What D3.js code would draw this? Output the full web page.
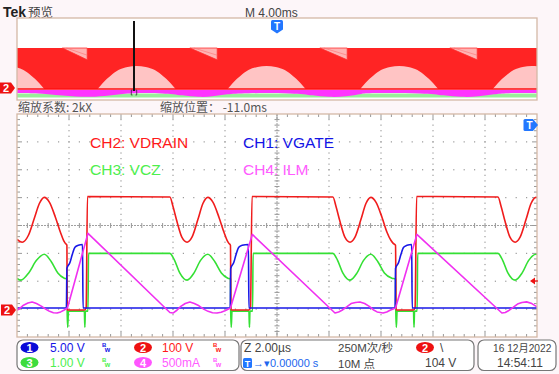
<!DOCTYPE html>
<html><head><meta charset="utf-8">
<script src="https://cdn.jsdelivr.net/npm/d3@7"></script>
<style>body{margin:0;background:#fdf6f9}svg{display:block}</style>
</head><body><svg id="c" width="559" height="374"></svg>
<script>
// ================= DATA =================
const timeDomainUs = [0, 20];           // 10 div x 2.00 us
const overviewDomainMs = [-20, 20];     // 10 div x 4.00 ms
const zoomPositionMs = -11.0;

// CH2 VDRAIN (us, V)
const vdrain = [[0,253],[0.2,243],[0.44,268],[0.67,330],[0.86,382],[1.05,404],[1.25,386],[1.48,332],[1.67,279],[1.79,250],[1.86,239],[1.92,232],[1.93,0],[2.60,0],[2.66,8],[2.71,407],
 [5.88,405],[6.00,371],[6.15,318],[6.34,261],[6.54,243],[6.73,261],[6.96,325],[7.15,382],[7.34,404],[7.54,386],[7.77,332],[7.96,279],[8.08,250],[8.15,239],[8.21,232],[8.23,0],[8.92,0],[8.98,8],[9.04,407],
 [12.15,405],[12.27,371],[12.42,318],[12.61,261],[12.81,243],[13.0,261],[13.23,325],[13.42,382],[13.61,404],[13.81,386],[14.04,332],[14.23,279],[14.38,250],[14.47,239],[14.56,232],[14.58,0],[15.25,0],[15.31,8],[15.37,407],
 [18.5,405],[18.62,371],[18.77,318],[18.96,261],[19.16,243],[19.35,261],[19.58,325],[19.77,382],[19.96,404],[20,403]];

// CH3 VCZ (us, V)
const vcz = [[0,1.20],[0.15,1.14],[0.45,1.40],[0.75,1.85],[1.05,2.07],[1.32,1.80],[1.57,1.40],[1.82,1.21],[1.92,1.18],[1.93,0.0],[1.95,-0.55],[1.98,0.03],[2.59,0.03],[2.61,-0.55],[2.63,0.03],[2.73,0.03],[2.75,2.10],
 [5.88,2.10],[6.06,1.85],[6.26,1.40],[6.54,1.14],[6.81,1.40],[7.06,1.85],[7.34,2.07],[7.61,1.80],[7.86,1.40],[8.11,1.21],[8.21,1.18],[8.22,0.0],[8.24,-0.55],[8.27,0.03],[8.92,0.03],[8.94,-0.55],[8.96,0.03],[9.06,0.03],[9.08,2.10],
 [12.15,2.10],[12.33,1.85],[12.53,1.40],[12.81,1.14],[13.08,1.40],[13.33,1.85],[13.61,2.07],[13.88,1.80],[14.13,1.40],[14.42,1.21],[14.56,1.18],[14.57,0.0],[14.59,-0.55],[14.62,0.03],[15.25,0.03],[15.27,-0.55],[15.29,0.03],[15.39,0.03],[15.41,2.10],
 [18.5,2.10],[18.68,1.85],[18.88,1.40],[19.16,1.14],[19.43,1.40],[19.68,1.85],[19.96,2.07],[20,2.06]];

// CH1 VGATE (us, V)
const vgate = [[0,0],[1.90,0],[1.92,7.1],[2.04,8.2],[2.12,9.5],[2.23,10.9],[2.36,11.25],[2.52,11.4],[2.54,0],
 [8.20,0],[8.22,7.1],[8.34,8.2],[8.42,9.5],[8.53,10.9],[8.66,11.25],[8.90,11.4],[8.92,0],
 [14.54,0],[14.56,7.1],[14.68,8.2],[14.76,9.5],[14.87,10.9],[15.0,11.25],[15.18,11.4],[15.20,0],[20,0]];

// CH4 ILM (us, A)
const ilm = [[0,-0.04],[0.12,0.0],[0.25,0.05],[0.42,0.09],[0.58,0.107],[0.75,0.08],[0.95,0.03],[1.1,-0.02],[1.25,-0.06],[1.4,-0.085],[1.54,-0.09],[1.68,-0.07],[1.80,-0.04],[1.94,0],[2.73,1.34],
 [5.88,-0.08],[6.0,-0.09],[6.15,-0.04],[6.3,0.03],[6.47,0.08],[6.65,0.107],[6.82,0.08],[7.0,0.04],[7.18,-0.02],[7.35,-0.06],[7.52,-0.085],[7.69,-0.09],[7.85,-0.075],[8.0,-0.05],[8.21,0],[9.05,1.32],
 [12.23,-0.09],[12.37,-0.07],[12.5,-0.04],[12.68,0.02],[12.85,0.08],[13.02,0.1],[13.19,0.107],[13.37,0.08],[13.55,0.03],[13.7,-0.03],[13.85,-0.07],[14.08,-0.09],[14.22,-0.07],[14.35,-0.04],[14.56,0],[15.38,1.32],
 [18.65,-0.09],[18.78,-0.08],[18.9,-0.05],[19.08,0.01],[19.25,0.07],[19.42,0.1],[19.6,0.11],[19.8,0.08],[20,0.02]];

// Overview (ms) envelopes
const ovVdrainTop = 400;
const ovNotchStart = [-16.5, -6.7, 3.3, 13.3];
const ovNotchEnd   = [-14.6, -4.6, 5.4, 15.4];
const ovNotchLevel = 285;
const ovHumpCenters = [-20.9, -10.8, -0.8, 9.4, 19.6];
const ovHumpOffsets = [-3.0, -2.6, -2.0, -1.4, -0.7, 0, 0.7, 1.4, 2.0, 2.6, 3.0];
const ovHumpLevels  = [0, 60, 130, 185, 215, 224, 215, 185, 130, 60, 0];
const ovIlmTop = 0.06;
const ovIlmBottom = [[-20,-0.1],[-18.6,-0.1],[-17,-0.2],[-15.5,-0.28],[-14,-0.3],[-12.5,-0.2],[-11.3,-0.1],[-8.6,-0.1],[-7.3,-0.22],[-6,-0.3],[-5,-0.28],[-3.8,-0.15],[-2.7,-0.1],
 [1.5,-0.1],[2.7,-0.22],[4,-0.3],[5.3,-0.28],[6.6,-0.12],[7.2,-0.1],[11.5,-0.1],[12.8,-0.22],[14.2,-0.3],[15.5,-0.28],[16.8,-0.15],[17.5,-0.1],[20,-0.1]];
const ovVczBand = [0.25, 0.63];

// Labels
const chNames = ["CH1: VGATE", "CH2: VDRAIN", "CH3: VCZ", "CH4: ILM"];
const chScaleText = ["5.00 V", "100 V", "1.00 V", "500mA"];
const triggerLevelV = 104;

// ================= STYLE / LAYOUT =================
const COL = {1:"#1818e8", 2:"#f01c1c", 3:"#34e034", 4:"#f030f0"};
const TXT = {1:"#1414e6", 2:"#ff1a1a", 3:"#4def4d", 4:"#ff5cff"};
const perDiv = {1:5, 2:100, 3:1, 4:0.5};
const offDiv = {1:-2.96, 2:-3.03, 3:-3.10, 4:-2.96};
const ovOff = {2:-2.93, 3:-4.0, 4:-3.12};
const FONT = '"Liberation Sans","Noto Sans CJK SC",sans-serif';
const CJK = '"Noto Sans CJK SC","Liberation Sans",sans-serif';

const X0=17, X1=537, Y0=114, Y1=337;
const OY0=18, OY1=100;
const svg = d3.select("#c");

const x = d3.scaleLinear().domain(timeDomainUs).range([X0, X1]);
const yDiv = d3.scaleLinear().domain([-4, 4]).range([Y1, Y0]);
const ox = d3.scaleLinear().domain(overviewDomainMs).range([X0, X1]);
const oyDiv = d3.scaleLinear().domain([-4, 4]).range([OY1, OY0]);
const yv = (ch, v) => yDiv(offDiv[ch] + v / perDiv[ch]);
const oyv = (ch, v) => oyDiv(ovOff[ch] + v / perDiv[ch]);

// ================= TOP TEXT =================
svg.append("text").attr("x",3).attr("y",17).attr("font-family",FONT).attr("font-weight","bold").attr("font-size",14).attr("fill","#222").text("Tek");
svg.append("text").attr("x",28).attr("y",17).attr("font-family",CJK).attr("font-size",12.5).attr("fill","#444").text("预览");
svg.append("text").attr("x",245).attr("y",17).attr("font-family",FONT).attr("font-size",12).attr("fill","#444").text("M 4.00ms");

// ================= OVERVIEW =================
svg.append("defs").html(`<clipPath id="ovclip"><rect x="${X0}" y="${OY0}" width="${X1-X0}" height="${OY1-OY0}"/></clipPath>
<clipPath id="mclip"><rect x="${X0}" y="${Y0}" width="${X1-X0}" height="${Y1-Y0}"/></clipPath>`);
svg.append("rect").attr("x",X0).attr("y",OY0).attr("width",X1-X0).attr("height",OY1-OY0).attr("fill","#fff");
const ov = svg.append("g").attr("clip-path","url(#ovclip)");
ov.append("path").attr("fill","#9aee9a").attr("d", d3.area().x(d=>ox(d)).y0(oyv(3,ovVczBand[0])).y1(oyv(3,ovVczBand[1]))(overviewDomainMs));
ov.append("path").attr("fill","#ff33ff").attr("d", d3.area().x(d=>ox(d[0])).y0(d=>oyv(4,d[1])).y1(oyv(4,ovIlmTop)).curve(d3.curveBasis)(ovIlmBottom));
ov.append("path").attr("fill","#ff2424").attr("d", d3.area().x(d=>ox(d)).y0(oyv(2,0)).y1(oyv(2,ovVdrainTop))(overviewDomainMs));
ovHumpCenters.forEach(c=>{
  const pts = ovHumpOffsets.map((o,i)=>[c+o, ovHumpLevels[i]]);
  ov.append("path").attr("fill","#ffc4c4").attr("d", d3.area().x(d=>ox(d[0])).y0(oyv(2,0)).y1(d=>oyv(2,d[1])).curve(d3.curveMonotoneX)(pts));
});
ovNotchStart.forEach((s,i)=>{
  const e = ovNotchEnd[i];
  ov.append("path").attr("fill","#ffb4b4").attr("stroke","#ff3030").attr("stroke-width",0.8)
    .attr("d", d3.line()([[ox(s),oyv(2,ovVdrainTop)],[ox(e),oyv(2,ovNotchLevel)],[ox(e),oyv(2,ovVdrainTop)]]) + "Z");
  ov.append("path").attr("fill","none").attr("stroke","#ff7070").attr("stroke-width",0.6)
    .attr("d", d3.line()([[ox(s)+4,oyv(2,ovVdrainTop)],[ox(e),oyv(2,ovNotchLevel+45)]]));
});
ov.append("line").attr("x1",X0).attr("x2",X1).attr("y1",oyv(2,0)).attr("y2",oyv(2,0)).attr("stroke","#ff1010").attr("stroke-width",1.5);
svg.append("rect").attr("x",X0).attr("y",OY0).attr("width",X1-X0).attr("height",OY1-OY0).attr("fill","none").attr("stroke","#d4b8a6").attr("stroke-width",1.3);
const zx = ox(zoomPositionMs);
svg.append("line").attr("x1",zx).attr("x2",zx).attr("y1",OY0+3).attr("y2",oyv(2,0)+2).attr("stroke","#111").attr("stroke-width",2);
svg.append("path").attr("fill","none").attr("stroke","#333").attr("stroke-width",0.8)
  .attr("d",`M${zx-1.5},${oyv(2,0)+1}h-1.2v5h1.2M${zx+1.5},${oyv(2,0)+1}h1.2v5h-1.2`);
const tmx = ox(0);
svg.append("path").attr("fill","#2277ff").attr("d",`M${tmx-4.5},${OY0+2} h9 a1.5,1.5 0 0 1 1.5,1.5 v8 l-6,4 l-6,-4 v-8 a1.5,1.5 0 0 1 1.5,-1.5z`);
svg.append("text").attr("x",tmx).attr("y",OY0+11.5).attr("text-anchor","middle").attr("font-family",FONT).attr("font-weight","bold").attr("font-size",10).attr("fill","#fff").text("T");
function chMarker(yc, label, color, x0){
  svg.append("path").attr("fill",color).attr("d",`M${x0},${yc-5.5} h11 l4,5.5 l-4,5.5 h-11 z`);
  svg.append("text").attr("x",x0+6).attr("y",yc+4).attr("text-anchor","middle").attr("font-family",FONT).attr("font-weight","bold").attr("font-size",11).attr("fill","#fff").text(label);
}
chMarker(oyv(2,0)-1, "2", "#ee1111", 0);

svg.append("text").attr("x",18).attr("y",112).attr("font-family",CJK).attr("font-size",12).attr("fill","#555").text("缩放系数: 2kX");
svg.append("text").attr("x",160).attr("y",112).attr("font-family",CJK).attr("font-size",12).attr("fill","#555").text("缩放位置： -11.0ms");

// ================= MAIN GRATICULE =================
svg.append("rect").attr("x",X0).attr("y",Y0).attr("width",X1-X0).attr("height",Y1-Y0).attr("fill","#fff");
const grid = svg.append("g");
const dx = (X1-X0)/10, dy = (Y1-Y0)/8;
const xc = (X0+X1)/2, yc = (Y0+Y1)/2;
for (let k=1;k<10;k++){ if(k===5) continue;
  const gx = X0+k*dx;
  for (let j=1;j<40;j++) grid.append("rect").attr("x",gx-0.6).attr("y",Y0+j*dy/5-0.6).attr("width",1.2).attr("height",1.2).attr("fill","#9a9a9a");
}
for (let m=1;m<8;m++){ if(m===4) continue;
  const gy = Y0+m*dy;
  for (let j=1;j<50;j++) grid.append("rect").attr("x",X0+j*dx/5-0.6).attr("y",gy-0.6).attr("width",1.2).attr("height",1.2).attr("fill","#9a9a9a");
}
grid.append("line").attr("x1",X0).attr("x2",X1).attr("y1",yc).attr("y2",yc).attr("stroke","#a0a0a0").attr("stroke-width",1).attr("stroke-dasharray","2,1");
grid.append("line").attr("y1",Y0).attr("y2",Y1).attr("x1",xc).attr("x2",xc).attr("stroke","#a0a0a0").attr("stroke-width",1).attr("stroke-dasharray","2,1");
for (let j=1;j<50;j++){ const tx=X0+j*dx/5;
  grid.append("line").attr("x1",tx).attr("x2",tx).attr("y1",yc-2.5).attr("y2",yc+2.5).attr("stroke","#999");
  grid.append("line").attr("x1",tx).attr("x2",tx).attr("y1",Y0).attr("y2",Y0+(j%5===0?5:3)).attr("stroke","#999");
  grid.append("line").attr("x1",tx).attr("x2",tx).attr("y1",Y1).attr("y2",Y1-(j%5===0?5:3)).attr("stroke","#999");
}
for (let j=1;j<40;j++){ const ty=Y0+j*dy/5;
  grid.append("line").attr("y1",ty).attr("y2",ty).attr("x1",xc-2.5).attr("x2",xc+2.5).attr("stroke","#999");
  grid.append("line").attr("y1",ty).attr("y2",ty).attr("x1",X0).attr("x2",X0+(j%5===0?5:3)).attr("stroke","#999");
  grid.append("line").attr("y1",ty).attr("y2",ty).attr("x1",X1).attr("x2",X1-(j%5===0?5:3)).attr("stroke","#999");
}

const lab = [[chNames[1],2,90,148],[chNames[0],1,243,148],[chNames[2],3,90,175],[chNames[3],4,243,175]];
lab.forEach(([t,ch,lx,ly])=>svg.append("text").attr("x",lx).attr("y",ly).attr("font-family",FONT).attr("font-size",15.5).attr("fill",TXT[ch]).text(t));

const traces = svg.append("g").attr("clip-path","url(#mclip)");
[[3,vcz,d3.curveMonotoneX],[2,vdrain,d3.curveMonotoneX],[1,vgate,d3.curveMonotoneX],[4,ilm,d3.curveLinear]].forEach(([ch,data,cv])=>{
  traces.append("path").attr("fill","none").attr("stroke",COL[ch]).attr("stroke-width",1.6).attr("stroke-linejoin","round")
    .attr("d", d3.line().x(d=>x(d[0])).y(d=>yv(ch,d[1])).curve(cv)(data));
});

svg.append("rect").attr("x",X0).attr("y",Y0).attr("width",X1-X0).attr("height",Y1-Y0).attr("fill","none").attr("stroke","#d4b8a6").attr("stroke-width",1.3);

chMarker(yv(2,0), "2", "#ee1111", 1);
svg.append("path").attr("fill","#2277ff").attr("d",`M${X1-12},${Y0+5} h8 l5,6 l-5,6 h-8 a1.5,1.5 0 0 1 -1.5,-1.5 v-9 a1.5,1.5 0 0 1 1.5,-1.5z`);
svg.append("text").attr("x",X1-7.5).attr("y",Y0+15).attr("text-anchor","middle").attr("font-family",FONT).attr("font-weight","bold").attr("font-size",10).attr("fill","#fff").text("T");
const tly = yv(2, triggerLevelV);
svg.append("path").attr("fill","#ee1111").attr("d",`M${X1-7},${tly} l5,-3.5 v7 z`);
svg.append("line").attr("x1",X1-3).attr("x2",X1+1).attr("y1",tly).attr("y2",tly).attr("stroke","#ee1111").attr("stroke-width",1.2);

// ================= STATUS BAR =================
function box(x0,x1){ svg.append("rect").attr("x",x0).attr("y",340).attr("width",x1-x0).attr("height",30.5).attr("rx",6).attr("fill","#fff").attr("stroke","#777").attr("stroke-width",1.2); }
box(17,239); box(241,474); box(478,556);
function badge(cx,cy,label,color){
  svg.append("ellipse").attr("cx",cx).attr("cy",cy).attr("rx",9).attr("ry",5.6).attr("fill",color);
  svg.append("text").attr("x",cx).attr("y",cy+4).attr("text-anchor","middle").attr("font-family",FONT).attr("font-weight","bold").attr("font-size",11).attr("fill","#fff").text(label);
}
function bw(bx,by,color){
  const t = svg.append("text").attr("x",bx).attr("y",by-3).attr("font-family",FONT).attr("font-weight","bold").attr("fill",color);
  t.append("tspan").attr("font-size",6).text("B");
  t.append("tspan").attr("font-size",7).attr("dx",-1.5).attr("dy",5).text("w");
}
const rows = [[1,29.5,347.5,50,102],[2,143,347.5,162,213],[3,29.5,362.5,50,102],[4,143,362.5,162,213]];
rows.forEach(([ch,bx,by,tx,wx])=>{
  const col = ch===3?"#3ddc3d":ch===4?"#ff55ff":ch===1?"#0a0ad8":"#ee1111";
  badge(bx,by,String(ch),col);
  svg.append("text").attr("x",tx).attr("y",by+4.5).attr("font-family",FONT).attr("font-size",12).attr("fill",TXT[ch]).text(chScaleText[ch-1]);
  bw(wx,by+2,TXT[ch]);
});
svg.append("text").attr("x",244).attr("y",352).attr("font-family",FONT).attr("font-size",12).attr("fill","#444").text("Z 2.00µs");
svg.append("rect").attr("x",243).attr("y",358).attr("width",9).attr("height",10).attr("rx",1.5).attr("fill","#2277ff");
svg.append("text").attr("x",247.5).attr("y",366.5).attr("text-anchor","middle").attr("font-family",FONT).attr("font-weight","bold").attr("font-size",9).attr("fill","#fff").text("T");
svg.append("text").attr("x",253).attr("y",367).attr("font-family",FONT).attr("font-size",11).attr("fill","#2266ee").text("→▾0.00000 s");
svg.append("text").attr("x",338).attr("y",352).attr("font-family",FONT).attr("font-size",11.5).attr("fill","#444").text("250M次/秒");
svg.append("text").attr("x",338).attr("y",367.5).attr("font-family",FONT).attr("font-size",11.5).attr("fill","#444").text("10M 点");
badge(425,347.5,"2","#ee1111");
svg.append("text").attr("x",440).attr("y",352).attr("font-family",FONT).attr("font-size",12).attr("fill","#444").text("\\");
svg.append("text").attr("x",425).attr("y",367).attr("font-family",FONT).attr("font-size",12).attr("fill","#444").text(triggerLevelV + " V");
svg.append("text").attr("x",493).attr("y",352).attr("font-family",FONT).attr("font-size",10.2).attr("fill","#444").text("16 12月2022");
svg.append("text").attr("x",497).attr("y",367).attr("font-family",FONT).attr("font-size",12).attr("fill","#444").text("14:54:11");
</script></body></html>
